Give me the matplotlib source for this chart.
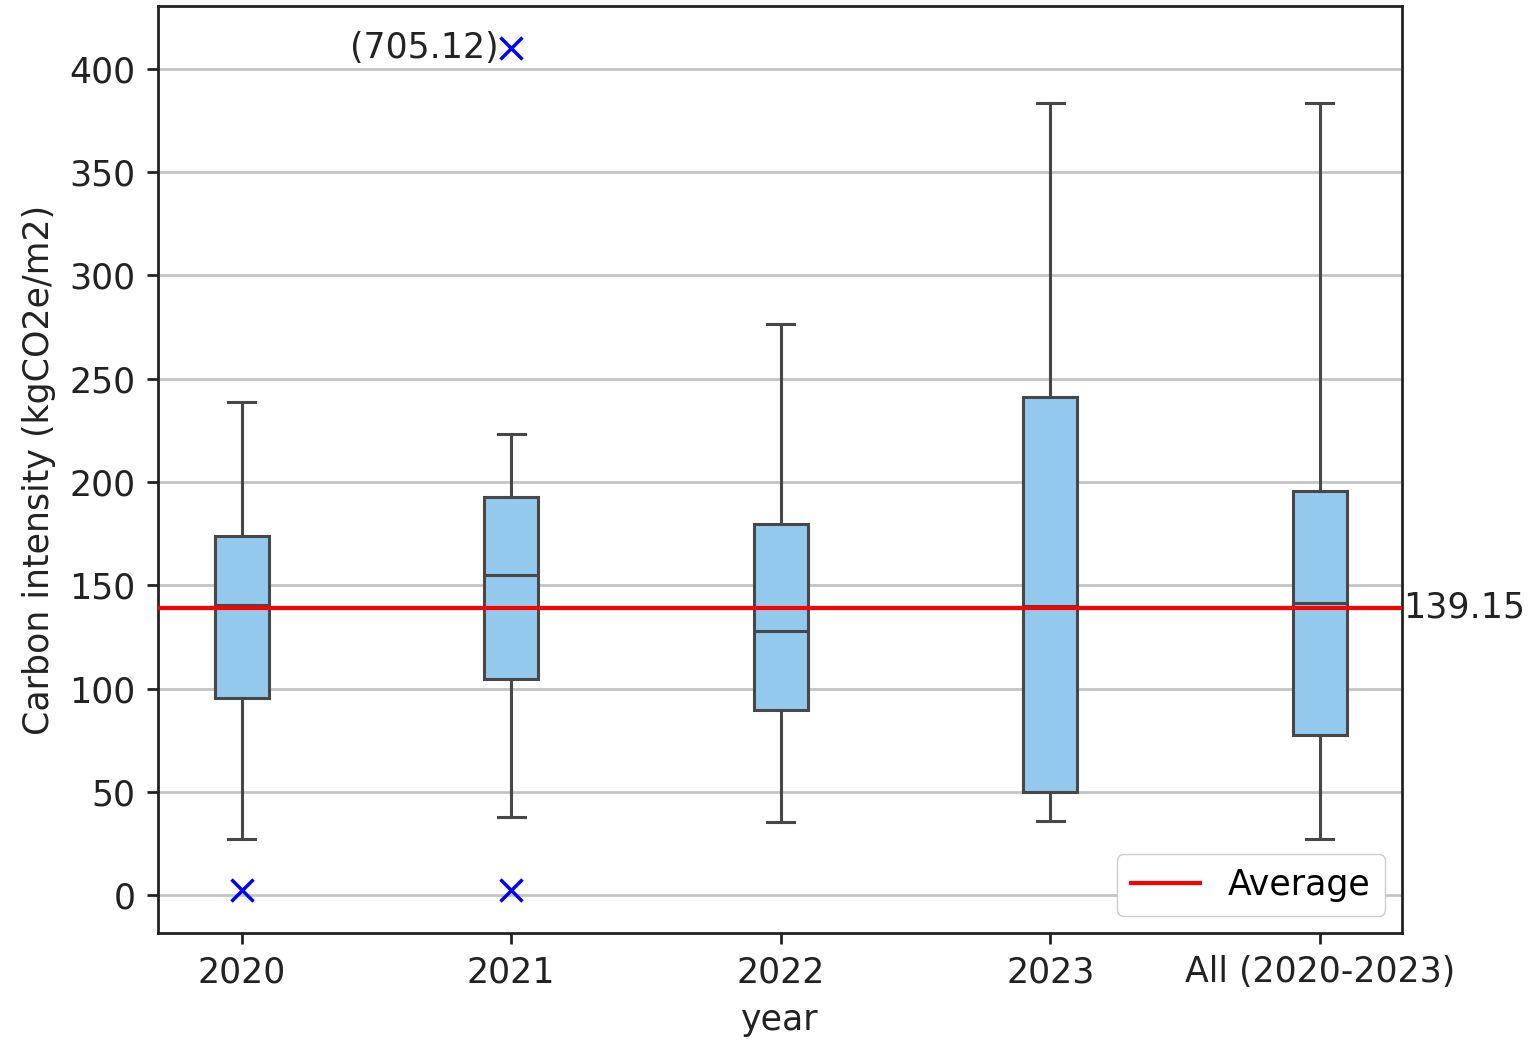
import matplotlib
matplotlib.use("Agg")
import matplotlib.pyplot as plt

categories = ["2020", "2021", "2022", "2023", "All (2020-2023)"]
whislo = [27.1, 37.8, 35.4, 35.8, 27.1]
q1 = [95.4, 104.6, 89.6, 49.9, 77.5]
med = [140.4, 155.0, 127.8, 140.0, 141.4]
q3 = [173.8, 192.7, 179.7, 241.2, 195.6]
whishi = [238.7, 223.2, 276.5, 383.5, 383.5]
outliers = [[2.4], [2.4, 705.12], [], [], []]
average = 139.15
clip_value = 410.0

FS = 25
plt.rcParams['font.family'] = ['DejaVu Sans']
plt.rcParams['font.size'] = FS

fig = plt.figure(figsize=(15.37, 10.46), dpi=100)
ax = fig.add_axes([0.1028, 0.108, 0.8094, 0.8863])

stats = []
for i, c in enumerate(categories):
    stats.append(dict(label=c, whislo=whislo[i], q1=q1[i], med=med[i],
                      q3=q3[i], whishi=whishi[i], fliers=[]))

edge = '#474747'
ax.bxp(stats, positions=range(len(categories)), widths=0.2, patch_artist=True,
       showfliers=False,
       boxprops=dict(facecolor='#93C9EC', edgecolor=edge, linewidth=2.2),
       medianprops=dict(color=edge, linewidth=2.2),
       whiskerprops=dict(color=edge, linewidth=2.2),
       capprops=dict(color=edge, linewidth=2.2), zorder=3)

for i, outs in enumerate(outliers):
    for v in outs:
        y = min(v, clip_value)
        ax.plot(i, y, marker='x', color='blue', markersize=16, mew=2.5,
                linestyle='none', zorder=4)
        if v > clip_value:
            ax.annotate(f"({v:.2f})", (i, y), xytext=(-9, 0),
                        textcoords='offset points', ha='right', va='center',
                        color='#222222', fontsize=FS)

ax.axhline(average, color='red', linewidth=3, label='Average', zorder=3.5)
ax.text(1.001, average, f"{average:.2f}", transform=ax.get_yaxis_transform(),
        ha='left', va='center', color='#222222', fontsize=FS)

ax.set_xlim(-0.31, 4.305)
ax.set_ylim(-18.4, 430.5)
ax.set_yticks(range(0, 401, 50))
ax.yaxis.grid(True, color='#c4c4c4', linewidth=2)
ax.set_axisbelow(True)
ax.set_xticks(range(len(categories)))
ax.set_xticklabels(categories)
ax.tick_params(axis='both', length=8, width=2, colors='#222222', labelsize=FS, pad=8)
for s in ax.spines.values():
    s.set_linewidth(2)
    s.set_color('#222222')

ax.set_xlabel("year", fontsize=FS, color='#222222', labelpad=10)
ax.set_ylabel("Carbon intensity (kgCO2e/m2)", fontsize=FS, color='#222222', labelpad=10)
ax.legend(loc='lower right', fontsize=FS, handlelength=2.0, borderpad=0.4,
          framealpha=1, borderaxespad=0.5)

fig.savefig("out.png", dpi=100)
